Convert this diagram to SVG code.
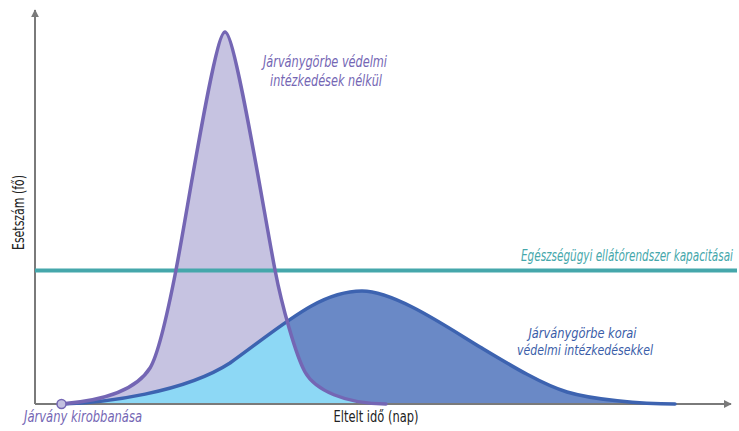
<svg xmlns="http://www.w3.org/2000/svg" width="739" height="431" viewBox="0 0 739 431">
<style>
  .lbl { font-family: "Liberation Sans Narrow", "DejaVu Sans Condensed", "Liberation Sans", sans-serif; font-size: 15.5px; }
  .it { font-style: italic; }
  .purple { fill: #7466b4; }
  .blue { fill: #3a5da8; }
  .teal { fill: #45a7ab; }
  .dark { fill: #222222; }
  .axis { stroke: #7a7a7a; stroke-width: 2; fill: none; }
</style>
<defs>
  <marker id="arr" viewBox="0 0 10 10" refX="9" refY="5" markerWidth="8" markerHeight="8" markerUnits="userSpaceOnUse" orient="auto">
    <path d="M0,0 L10,5 L0,10 z" fill="#7a7a7a"/>
  </marker>
  <path id="purpleCurve" d="M61,404 C100,401 135,392 150,368 C158,355.2 169,306 176,270 C188,207.6 215,32 225,32 C235,32 263,207.6 275,270 C282,306.4 296,355.8 305,372 C315,390 345,404 386,404"/>
  <path id="blueCurve" d="M61,404 C105,403 185,392.25 230,363 C285,323.4 320,291 362,291 C395,291 450,329 480,347 C510,365 542,384.5 567,392 C592,399.5 640,404 675,404"/>
  <clipPath id="purpleClip">
    <path d="M61,404 C100,401 135,392 150,368 C158,355.2 169,306 176,270 C188,207.6 215,32 225,32 C235,32 263,207.6 275,270 C282,306.4 296,355.8 305,372 C315,390 345,404 386,404 Z"/>
  </clipPath>
</defs>

<g id="fills">
  <path d="M61,404 C105,403 185,392.25 230,363 C285,323.4 320,291 362,291 C395,291 450,329 480,347 C510,365 542,384.5 567,392 C592,399.5 640,404 675,404 Z" fill="#6a89c6"/>
  <path d="M61,404 C100,401 135,392 150,368 C158,355.2 169,306 176,270 C188,207.6 215,32 225,32 C235,32 263,207.6 275,270 C282,306.4 296,355.8 305,372 C315,390 345,404 386,404 Z" fill="#c6c3e1"/>
  <path clip-path="url(#purpleClip)" d="M61,404 C105,403 185,392.25 230,363 C285,323.4 320,291 362,291 C395,291 450,329 480,347 C510,365 542,384.5 567,392 C592,399.5 640,404 675,404 Z" fill="#8dd8f5"/>
</g>

<g id="connectors">
  <line class="axis" x1="35" y1="404" x2="35" y2="10" marker-end="url(#arr)"/>
  <line class="axis" x1="35" y1="404" x2="731" y2="404" marker-end="url(#arr)"/>
</g>

<g id="capacity">
  <line x1="35" y1="270.5" x2="737" y2="270.5" stroke="#45a7ab" stroke-width="4"/>
  <text class="lbl it teal" x="733" y="261" text-anchor="end" textLength="212" lengthAdjust="spacingAndGlyphs">Egészségügyi ellátórendszer kapacitásai</text>
</g>

<g id="curve-early">
  <use href="#blueCurve" fill="none" stroke="#3d63b0" stroke-width="3.5" stroke-linecap="round"/>
  <text class="lbl it blue" style="font-size:14.5px" x="582.5" y="337.5" text-anchor="middle" textLength="108" lengthAdjust="spacingAndGlyphs">Járványgörbe korai</text>
  <text class="lbl it blue" style="font-size:14.5px" x="585" y="355" text-anchor="middle" textLength="136" lengthAdjust="spacingAndGlyphs">védelmi intézkedésekkel</text>
</g>

<g id="curve-none">
  <use href="#purpleCurve" fill="none" stroke="#7466b4" stroke-width="3.5" stroke-linecap="round"/>
  <text class="lbl it purple" x="325" y="66.5" text-anchor="middle" textLength="124" lengthAdjust="spacingAndGlyphs">Járványgörbe védelmi</text>
  <text class="lbl it purple" x="326" y="86" text-anchor="middle" textLength="112" lengthAdjust="spacingAndGlyphs">intézkedések nélkül</text>
</g>

<g id="outbreak">
  <circle cx="61.5" cy="404" r="4.5" fill="#c3c0e0" stroke="#7466b4" stroke-width="1.5"/>
  <text class="lbl it purple" x="24" y="421.7" textLength="118" lengthAdjust="spacingAndGlyphs">Járvány kirobbanása</text>
</g>

<g id="axis-labels">
  <text class="lbl dark" x="333.5" y="421.7" textLength="85" lengthAdjust="spacingAndGlyphs">Eltelt idő (nap)</text>
  <text class="lbl dark" style="font-size:16px" transform="translate(23.5,212.5) rotate(-90)" text-anchor="middle" textLength="75" lengthAdjust="spacingAndGlyphs">Esetszám (fő)</text>
</g>
</svg>
